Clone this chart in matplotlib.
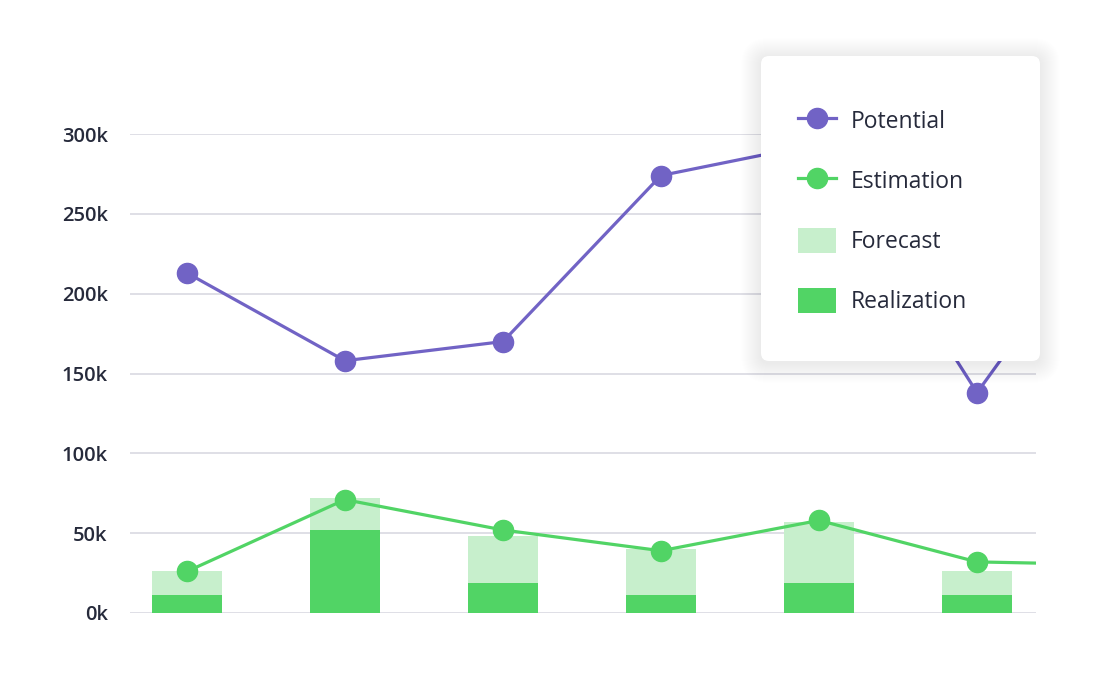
import matplotlib
matplotlib.use("Agg")
import matplotlib.pyplot as plt
from matplotlib.patches import FancyBboxPatch, Patch
from matplotlib.lines import Line2D
from matplotlib.transforms import IdentityTransform

plt.rcParams['font.family'] = ['Open Sans', 'DejaVu Sans']

# data (values in thousands); the 7th point lies just beyond the right edge
positions = [0, 1, 2, 3, 4, 5, 6]
potential = [213, 158, 170, 274, 294, 138, 275]
estimation = [26, 71, 52, 39, 58, 32, 30]
bar_pos = [0, 1, 2, 3, 4, 5]
forecast = [26, 72, 48, 40, 57, 26]
realization = [11, 52, 19, 11, 19, 11]
yticks = [0, 50, 100, 150, 200, 250, 300]
ytick_labels = ['0k', '50k', '100k', '150k', '200k', '250k', '300k']

purple = '#7163c5'
green = '#51d465'
light_green = '#c7efcc'
text_color = '#262a3b'

fig = plt.figure(figsize=(11, 7), dpi=100)
ax = fig.add_axes([130 / 1100, 87 / 700, 906 / 1100, 479 / 700])

ax.bar(bar_pos, forecast, width=0.44, color=light_green, zorder=2)
ax.bar(bar_pos, realization, width=0.44, color=green, zorder=3)

ax.plot(positions, potential, color=purple, lw=2.3, zorder=4)
ax.plot(positions[:6], potential[:6], 'o', color=purple, ms=14.5, zorder=5, clip_on=False)
ax.plot(positions, estimation, color=green, lw=2.3, zorder=4)
ax.plot(positions[:6], estimation[:6], 'o', color=green, ms=14.5, zorder=5, clip_on=False)

ax.set_xlim(-0.36, 5.373)
ax.set_ylim(0, 300)
ax.set_yticks(yticks)
ax.set_yticklabels(ytick_labels)
ax.set_xticks([])
ax.grid(axis='y', color='#dfdfe6', lw=1.4, zorder=0)
ax.set_axisbelow(True)
for s in ax.spines.values():
    s.set_visible(False)
ax.tick_params(axis='y', length=0, pad=16, labelsize=14.5, labelcolor=text_color)
for lab in ax.get_yticklabels():
    lab.set_fontweight('semibold')

# legend card with soft shadow (pixel coordinates)
x0, y0, w, h = 761, 339, 279, 305
for i in range(20, 0, -1):
    sh = FancyBboxPatch((x0 - i, y0 - i - 2), w + 2 * i, h + 2 * i,
                        boxstyle="round,pad=0,rounding_size=%d" % (8 + i),
                        transform=IdentityTransform(), facecolor='black',
                        edgecolor='none', alpha=0.003, zorder=6)
    fig.patches.append(sh)
card = FancyBboxPatch((x0, y0), w, h, boxstyle="round,pad=0,rounding_size=8",
                      transform=IdentityTransform(), facecolor='white',
                      edgecolor='none', zorder=7)
fig.patches.append(card)

handles = [
    Line2D([], [], color=purple, lw=2.3, marker='o', ms=14.5),
    Line2D([], [], color=green, lw=2.3, marker='o', ms=14.5),
    Patch(facecolor=light_green),
    Patch(facecolor=green),
]
labels = ['Potential', 'Estimation', 'Forecast', 'Realization']
leg = fig.legend(handles, labels, loc='upper left',
                 bbox_to_anchor=(787 / 1100, 1 - 97 / 700), frameon=False,
                 fontsize=16.5, handlelength=1.62, handleheight=1.25,
                 handletextpad=0.68, labelspacing=1.49, borderpad=0,
                 labelcolor=text_color)
leg.set_zorder(8)

fig.savefig('out.png', dpi=100, facecolor='white')
